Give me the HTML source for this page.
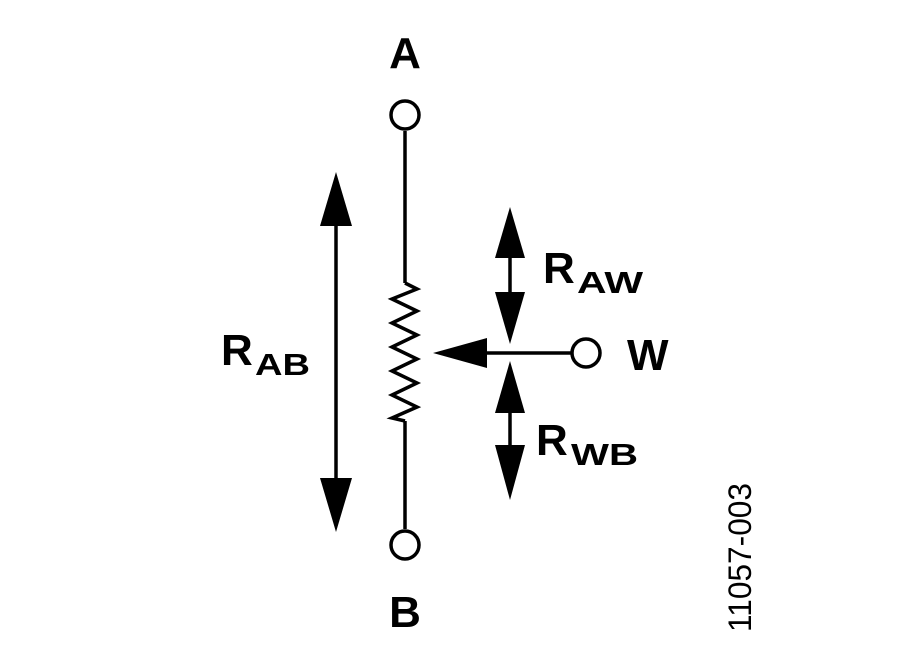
<!DOCTYPE html>
<html><head><style>body{margin:0;background:#fff}svg{display:block}</style></head>
<body>
<svg width="900" height="656" viewBox="0 0 900 656" xmlns="http://www.w3.org/2000/svg" font-family="Liberation Sans, sans-serif" font-weight="bold">
<g stroke="#000" stroke-width="3.5" fill="none">
<line x1="405" y1="131" x2="405" y2="283"/>
<line x1="405" y1="421" x2="405" y2="529"/>
<polyline points="405,283 417,289 392,299 417,311 392,323 417,335 392,347 417,359 392,371 417,383 392,395 417,407 392,418 405,421" stroke-linejoin="miter"/>
<circle cx="405" cy="115" r="14"/>
<circle cx="405" cy="545" r="14"/>
<circle cx="586" cy="353" r="14"/>
<line x1="336" y1="222" x2="336" y2="480"/>
<line x1="480" y1="353" x2="572" y2="353"/>
<line x1="510" y1="255" x2="510" y2="295"/>
<line x1="510" y1="410" x2="510" y2="448"/>
</g>
<g fill="#000">
<polygon points="336,172 320,226 352,226"/>
<polygon points="336,532 320,478 352,478"/>
<polygon points="433,353 487,338 487,368"/>
<polygon points="510,207 495,258 525,258"/>
<polygon points="510,344 495,292 525,292"/>
<polygon points="510,361 495,413 525,413"/>
<polygon points="510,500 495,445 525,445"/>
</g>
<text x="405" y="68" font-size="44" text-anchor="middle">A</text>
<text x="405" y="627" font-size="44" text-anchor="middle">B</text>
<text x="627" y="370" font-size="44">W</text>
<text x="221" y="365" font-size="44">R</text>
<text x="255" y="375" font-size="31" textLength="55" lengthAdjust="spacingAndGlyphs">AB</text>
<text x="543" y="283" font-size="44">R</text>
<text x="577" y="293" font-size="31" textLength="66" lengthAdjust="spacingAndGlyphs">AW</text>
<text x="536" y="455" font-size="44">R</text>
<text x="571" y="465" font-size="31" textLength="67" lengthAdjust="spacingAndGlyphs">WB</text>
<text transform="translate(751,632) rotate(-90)" font-size="32" font-weight="normal" textLength="149" lengthAdjust="spacingAndGlyphs">11057-003</text>
</svg>
</body></html>
